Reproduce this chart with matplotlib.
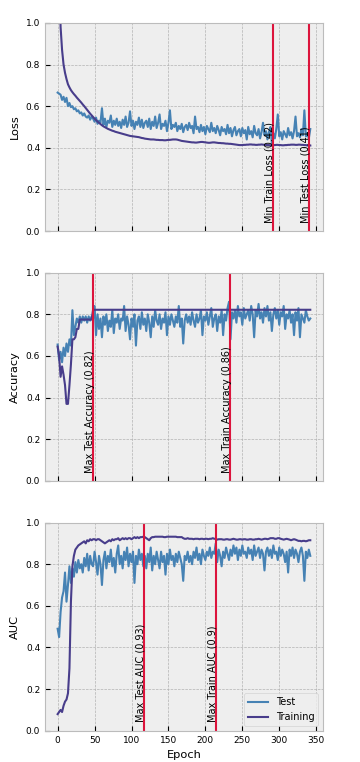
#!/usr/bin/env python3
"""Plot loss, accuracy and AUC of train / test over the epochs."""

import numpy as np
import matplotlib
matplotlib.use("Agg")
import matplotlib.pyplot as plt

# values, one value every 2 epochs (0, 2, ..., 342)
epochs = np.arange(0, 343, 2)

train_loss = [
    2.0, 1.25, 0.98, 0.87, 0.80, 0.76, 0.73, 0.705, 0.69, 0.677,
    0.667, 0.658, 0.65, 0.641, 0.633, 0.625, 0.617, 0.608, 0.600, 0.591,
    0.582, 0.573, 0.564, 0.556, 0.548, 0.54, 0.533, 0.526, 0.52, 0.514,
    0.508, 0.503, 0.499, 0.495, 0.491, 0.488, 0.485, 0.482, 0.48, 0.477,
    0.475, 0.473, 0.471, 0.469, 0.467, 0.465, 0.463, 0.461, 0.459, 0.457,
    0.456, 0.455, 0.454, 0.453, 0.452, 0.451, 0.449, 0.447, 0.446, 0.444,
    0.443, 0.442, 0.441, 0.440, 0.440, 0.440, 0.439, 0.438, 0.438, 0.437,
    0.437, 0.437, 0.436, 0.436, 0.437, 0.438, 0.438, 0.439, 0.440, 0.440,
    0.440, 0.439, 0.437, 0.435, 0.433, 0.432, 0.431, 0.430, 0.429, 0.428,
    0.427, 0.426, 0.426, 0.425, 0.425, 0.426, 0.427, 0.428, 0.428, 0.427,
    0.426, 0.425, 0.424, 0.424, 0.425, 0.426, 0.426, 0.425, 0.424, 0.423,
    0.423, 0.422, 0.422, 0.421, 0.420, 0.420, 0.419, 0.419, 0.418, 0.417,
    0.416, 0.415, 0.414, 0.413, 0.413, 0.413, 0.414, 0.414, 0.415, 0.415,
    0.416, 0.416, 0.415, 0.415, 0.414, 0.414, 0.415, 0.415, 0.416, 0.415,
    0.414, 0.414, 0.413, 0.413, 0.412, 0.412, 0.413, 0.413, 0.414, 0.414,
    0.413, 0.413, 0.412, 0.412, 0.413, 0.413, 0.414, 0.414, 0.415, 0.415,
    0.415, 0.414, 0.414, 0.415, 0.415, 0.414, 0.414, 0.413, 0.413, 0.411,
    0.410, 0.411,
]
test_loss = [
    0.665, 0.66, 0.655, 0.63, 0.645, 0.62, 0.64, 0.60, 0.615, 0.595,
    0.60, 0.585, 0.59, 0.575, 0.58, 0.565, 0.57, 0.555, 0.565, 0.55,
    0.545, 0.555, 0.535, 0.55, 0.54, 0.525, 0.545, 0.515, 0.53, 0.52,
    0.59, 0.51, 0.54, 0.50, 0.53, 0.52, 0.555, 0.50, 0.53, 0.51,
    0.54, 0.505, 0.525, 0.495, 0.535, 0.51, 0.55, 0.50, 0.52, 0.575,
    0.505, 0.53, 0.49, 0.525, 0.51, 0.545, 0.50, 0.535, 0.495, 0.52,
    0.53, 0.50, 0.54, 0.49, 0.525, 0.505, 0.55, 0.495, 0.52, 0.56,
    0.49, 0.515, 0.505, 0.53, 0.48, 0.52, 0.58, 0.49, 0.51, 0.50,
    0.52, 0.48, 0.505, 0.49, 0.515, 0.475, 0.50, 0.51, 0.485, 0.52,
    0.495, 0.505, 0.47, 0.55, 0.49, 0.50, 0.475, 0.51, 0.48, 0.50,
    0.465, 0.505, 0.49, 0.475, 0.52, 0.48, 0.495, 0.47, 0.505, 0.485,
    0.46, 0.50, 0.48, 0.49, 0.465, 0.51, 0.47, 0.495, 0.455, 0.485,
    0.50, 0.46, 0.48, 0.49, 0.455, 0.495, 0.47, 0.485, 0.44, 0.50,
    0.465, 0.48, 0.45, 0.505, 0.47, 0.46, 0.49, 0.445, 0.475, 0.52,
    0.46, 0.48, 0.44, 0.475, 0.50, 0.42, 0.47, 0.445, 0.49, 0.56,
    0.455, 0.475, 0.44, 0.48, 0.465, 0.45, 0.495, 0.46, 0.475, 0.445,
    0.48, 0.55, 0.455, 0.47, 0.45, 0.49, 0.46, 0.58, 0.455, 0.47,
    0.445, 0.49,
]

train_acc = [
    0.645, 0.60, 0.50, 0.55, 0.51, 0.46, 0.37, 0.37, 0.46, 0.56,
    0.68, 0.68, 0.69, 0.73, 0.73, 0.775, 0.775, 0.775, 0.775, 0.775,
    0.775, 0.775, 0.775, 0.775, 0.822, 0.822, 0.822, 0.822, 0.822, 0.822,
    0.822, 0.822, 0.822, 0.822, 0.822, 0.822, 0.822, 0.822, 0.822, 0.822,
    0.822, 0.822, 0.822, 0.822, 0.822, 0.822, 0.822, 0.822, 0.822, 0.822,
    0.822, 0.822, 0.822, 0.822, 0.822, 0.822, 0.822, 0.822, 0.822, 0.822,
    0.822, 0.822, 0.822, 0.822, 0.822, 0.822, 0.822, 0.822, 0.822, 0.822,
    0.822, 0.822, 0.822, 0.822, 0.822, 0.822, 0.822, 0.822, 0.822, 0.822,
    0.822, 0.822, 0.822, 0.822, 0.822, 0.822, 0.822, 0.822, 0.822, 0.822,
    0.822, 0.822, 0.822, 0.822, 0.822, 0.822, 0.822, 0.822, 0.822, 0.822,
    0.822, 0.822, 0.822, 0.822, 0.822, 0.822, 0.822, 0.822, 0.822, 0.822,
    0.822, 0.822, 0.822, 0.822, 0.822, 0.822, 0.822, 0.822, 0.822, 0.822,
    0.822, 0.822, 0.822, 0.822, 0.822, 0.822, 0.822, 0.822, 0.822, 0.822,
    0.822, 0.822, 0.822, 0.822, 0.822, 0.822, 0.822, 0.822, 0.822, 0.822,
    0.822, 0.822, 0.822, 0.822, 0.822, 0.822, 0.822, 0.822, 0.822, 0.822,
    0.822, 0.822, 0.822, 0.822, 0.822, 0.822, 0.822, 0.822, 0.822, 0.822,
    0.822, 0.822, 0.822, 0.822, 0.822, 0.822, 0.822, 0.822, 0.822, 0.822,
    0.822, 0.822,
]
test_acc = [
    0.655, 0.58, 0.62, 0.57, 0.64, 0.60, 0.66, 0.62, 0.68, 0.65,
    0.82, 0.70, 0.74, 0.78, 0.76, 0.79, 0.76, 0.79, 0.77, 0.79,
    0.76, 0.79, 0.77, 0.79, 0.78, 0.84, 0.70, 0.80, 0.73, 0.78,
    0.69, 0.79, 0.75, 0.80, 0.72, 0.77, 0.74, 0.82, 0.71, 0.78,
    0.76, 0.80, 0.73, 0.78, 0.77, 0.84, 0.72, 0.79, 0.75, 0.68,
    0.78, 0.74, 0.80, 0.65, 0.77, 0.79, 0.73, 0.81, 0.75, 0.78,
    0.72, 0.80, 0.76, 0.69, 0.79, 0.74, 0.82, 0.77, 0.75, 0.80,
    0.73, 0.78, 0.76, 0.81, 0.70, 0.79, 0.75, 0.80, 0.77, 0.74,
    0.79, 0.76, 0.84, 0.74, 0.78, 0.66, 0.77, 0.80, 0.76, 0.79,
    0.75, 0.81, 0.77, 0.74, 0.80, 0.76, 0.78, 0.82, 0.70, 0.79,
    0.77, 0.81, 0.75, 0.79, 0.83, 0.74, 0.78, 0.80, 0.72, 0.79,
    0.76, 0.82, 0.70, 0.80, 0.77, 0.83, 0.86, 0.68, 0.81, 0.78,
    0.82, 0.76, 0.84, 0.79, 0.81, 0.75, 0.83, 0.78, 0.80, 0.82,
    0.77, 0.84, 0.80, 0.69, 0.82, 0.79, 0.85, 0.78, 0.81, 0.76,
    0.83, 0.79, 0.84, 0.77, 0.81, 0.72, 0.80, 0.83, 0.78, 0.82,
    0.75, 0.81, 0.79, 0.84, 0.73, 0.80, 0.78, 0.82, 0.76, 0.80,
    0.70, 0.81, 0.77, 0.83, 0.69, 0.80, 0.78, 0.76, 0.82, 0.79,
    0.77, 0.78,
]

train_auc = [
    0.08, 0.09, 0.10, 0.09, 0.12, 0.14, 0.15, 0.18, 0.30, 0.62,
    0.79, 0.84, 0.87, 0.88, 0.89, 0.895, 0.90, 0.905, 0.91, 0.90,
    0.915, 0.91, 0.92, 0.915, 0.92, 0.92, 0.915, 0.92, 0.92, 0.915,
    0.91, 0.905, 0.90, 0.905, 0.91, 0.915, 0.91, 0.92, 0.915, 0.92,
    0.92, 0.925, 0.915, 0.92, 0.925, 0.92, 0.925, 0.92, 0.925, 0.925,
    0.92, 0.925, 0.93, 0.925, 0.93, 0.925, 0.93, 0.93, 0.932, 0.93,
    0.925, 0.92, 0.915, 0.925, 0.93, 0.93, 0.932, 0.932, 0.932, 0.932,
    0.932, 0.932, 0.93, 0.93, 0.932, 0.932, 0.932, 0.932, 0.932, 0.932,
    0.932, 0.93, 0.93, 0.93, 0.93, 0.925, 0.922, 0.922, 0.925, 0.922,
    0.922, 0.922, 0.92, 0.922, 0.922, 0.922, 0.92, 0.922, 0.922, 0.92,
    0.922, 0.922, 0.92, 0.922, 0.922, 0.925, 0.922, 0.922, 0.918, 0.92,
    0.92, 0.92, 0.918, 0.918, 0.92, 0.92, 0.918, 0.918, 0.92, 0.922,
    0.92, 0.918, 0.918, 0.92, 0.92, 0.918, 0.92, 0.92, 0.918, 0.918,
    0.92, 0.92, 0.918, 0.918, 0.92, 0.92, 0.922, 0.92, 0.918, 0.92,
    0.922, 0.922, 0.92, 0.922, 0.925, 0.925, 0.925, 0.922, 0.922, 0.925,
    0.925, 0.922, 0.92, 0.918, 0.92, 0.922, 0.92, 0.918, 0.915, 0.918,
    0.92, 0.918, 0.915, 0.912, 0.912, 0.91, 0.912, 0.912, 0.91, 0.912,
    0.915, 0.915,
]
test_auc = [
    0.49, 0.45, 0.57, 0.64, 0.67, 0.76, 0.62, 0.70, 0.79, 0.71,
    0.78, 0.74, 0.81, 0.76, 0.82, 0.78, 0.80, 0.76, 0.83, 0.79,
    0.85, 0.77, 0.84, 0.80, 0.79, 0.86, 0.81, 0.75, 0.84, 0.80,
    0.70, 0.82, 0.86, 0.78, 0.84, 0.81, 0.87, 0.79, 0.83, 0.76,
    0.85, 0.89, 0.80, 0.84, 0.78, 0.86, 0.82, 0.88, 0.79, 0.85,
    0.81, 0.86, 0.71, 0.84, 0.80, 0.87, 0.82, 0.85, 0.79, 0.84,
    0.78, 0.85, 0.81, 0.88, 0.77, 0.84, 0.80, 0.86, 0.82, 0.78,
    0.86, 0.81, 0.84, 0.75, 0.85, 0.80, 0.87, 0.82, 0.84, 0.79,
    0.85, 0.81, 0.86, 0.83, 0.80, 0.72, 0.84, 0.82, 0.86, 0.81,
    0.84, 0.80, 0.86, 0.83, 0.88, 0.82, 0.85, 0.80, 0.87, 0.84,
    0.82, 0.86, 0.84, 0.88, 0.83, 0.86, 0.85, 0.90, 0.81, 0.87,
    0.84, 0.79, 0.86, 0.83, 0.88, 0.85, 0.82, 0.87, 0.84, 0.89,
    0.85, 0.88, 0.82, 0.87, 0.84, 0.89, 0.85, 0.86, 0.83, 0.88,
    0.85, 0.87, 0.82, 0.89, 0.84, 0.86, 0.88, 0.83, 0.87, 0.85,
    0.77, 0.86, 0.88, 0.84, 0.87, 0.83, 0.89, 0.85, 0.86, 0.82,
    0.88, 0.84, 0.87, 0.85, 0.81, 0.86, 0.76, 0.87, 0.84, 0.88,
    0.83, 0.87, 0.85, 0.81, 0.86, 0.88, 0.84, 0.72, 0.86, 0.83,
    0.87, 0.84,
]

# marker lines (epoch, label) per panel
loss_marks = [(291, "Min Train Loss (0.42)"), (340, "Min Test Loss (0.41)")]
acc_marks = [(48, "Max Test Accuracy (0.82)"), (233, "Max Train Accuracy (0.86)")]
auc_marks = [(117, "Max Test AUC (0.93)"), (214, "Max Train AUC (0.9)")]

plt.style.use("bmh")
plt.rcParams["xtick.labelsize"] = 6.5
plt.rcParams["ytick.labelsize"] = 6.5
plt.rcParams["axes.labelsize"] = 8.2

test_color = "#4682B4"
train_color = "#483D8B"

fig, axes = plt.subplots(3, 1, sharex=True, figsize=(3.6, 7.62), dpi=100)
plt.subplots_adjust(left=0.125, right=0.897, top=0.970, bottom=0.041, hspace=0.2)

panels = [
    (axes[0], test_loss, train_loss, "Loss", loss_marks),
    (axes[1], test_acc, train_acc, "Accuracy", acc_marks),
    (axes[2], test_auc, train_auc, "AUC", auc_marks),
]

for ax, test, train, name, marks in panels:
    ax.plot(epochs, test, color=test_color, linewidth=1.5, label="Test")
    ax.plot(epochs, train, color=train_color, linewidth=1.5, label="Training")
    for x, label in marks:
        ax.axvline(x, color="crimson", linewidth=1.5)
        ax.text(x + 2.5, 0.04, label, rotation=90, fontsize=7,
                ha="right", va="bottom")
    ax.set_ylim(0, 1)
    ax.set_ylabel(name)

axes[-1].set_xlabel("Epoch")
axes[-1].legend(loc="lower right", fontsize=7)

fig.savefig("out.png", dpi=100)
